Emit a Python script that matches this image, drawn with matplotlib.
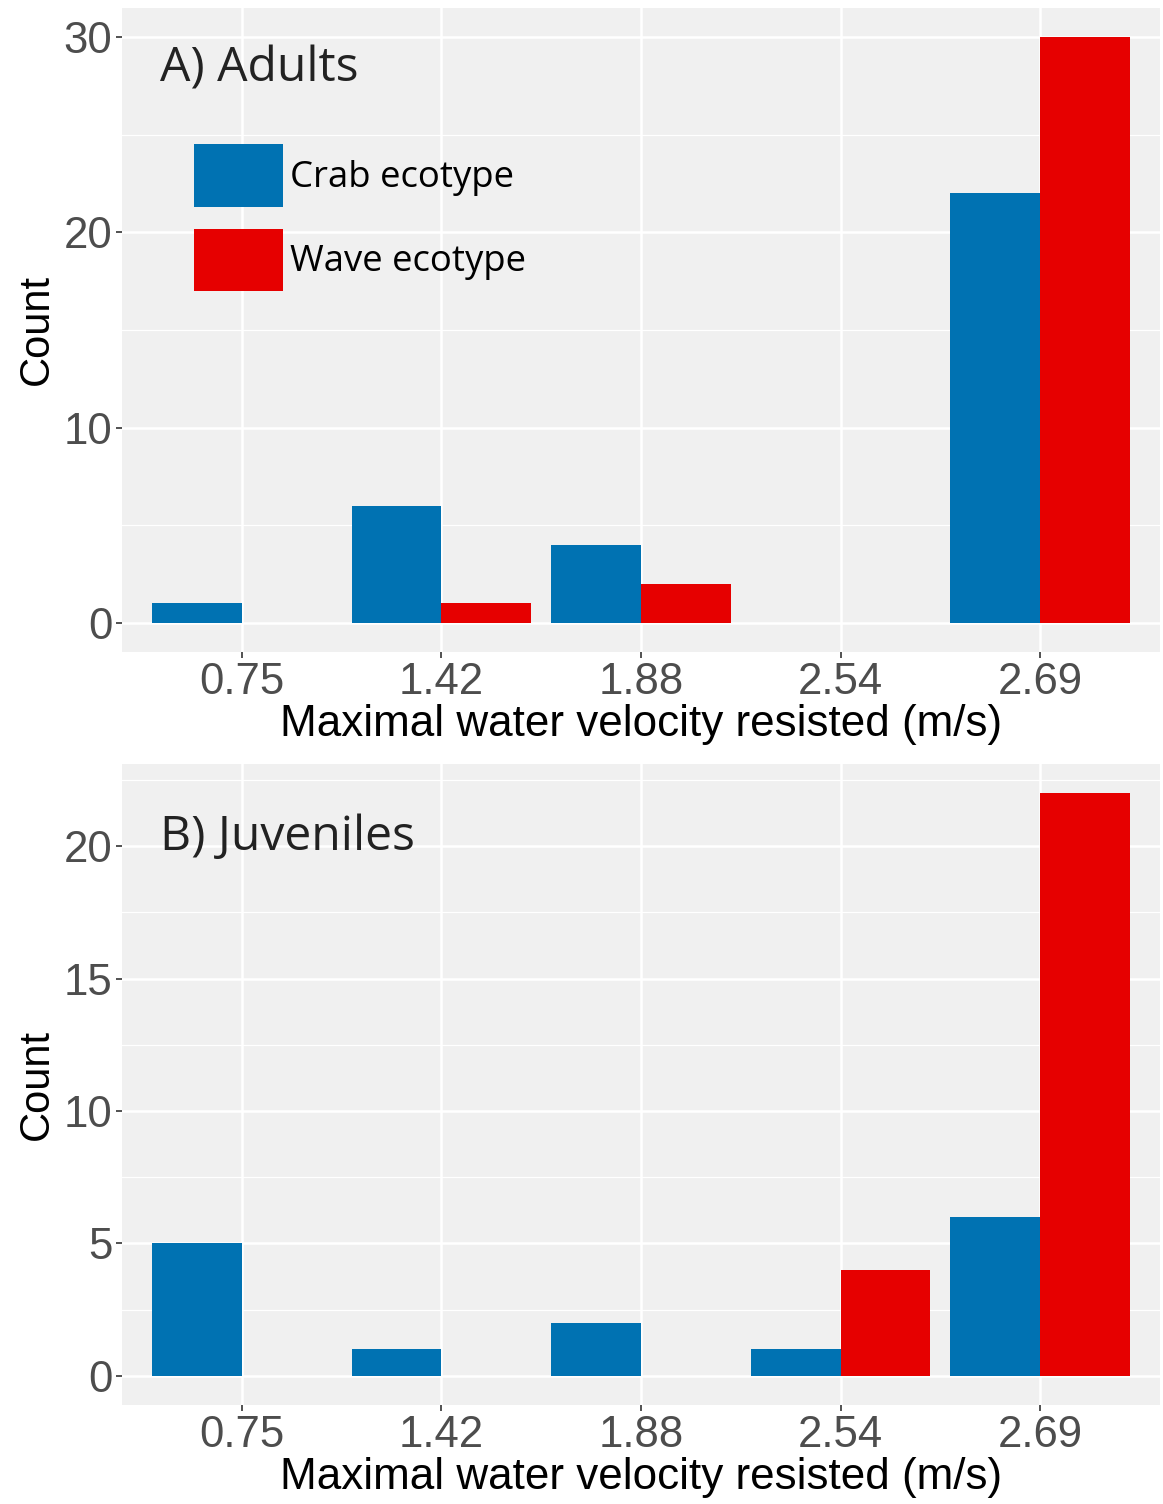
import numpy as np
import matplotlib
matplotlib.use('Agg')
import matplotlib.pyplot as plt
from matplotlib.patches import Patch
from matplotlib.ticker import MultipleLocator

# data
velocity = ['0.75', '1.42', '1.88', '2.54', '2.69']
adult_crab = [1, 6, 4, 0, 22]
adult_wave = [0, 1, 2, 0, 30]
juv_crab = [5, 1, 2, 1, 6]
juv_wave = [0, 0, 0, 4, 22]

crab_col = '#0072B2'
wave_col = '#E60000'

plt.rcParams['font.family'] = ['Liberation Sans', 'DejaVu Sans']

fig = plt.figure(figsize=(11.63, 15.04), dpi=100)
ax1 = fig.add_axes([0.1049, 0.5665, 0.8925, 0.4282])
ax2 = fig.add_axes([0.1049, 0.0658, 0.8925, 0.4262])


def panel(ax, crab, wave, ymax, major, title, title_y):
    x = np.arange(len(velocity))
    w = 0.45
    ax.set_facecolor('#F0F0F0')
    ax.bar(x - w / 2, crab, width=w, color=crab_col, zorder=3)
    ax.bar(x + w / 2, wave, width=w, color=wave_col, zorder=3)
    ax.set_xlim(-0.6, len(velocity) - 0.4)
    ax.set_xticks(x)
    ax.set_xticklabels(velocity)
    ax.yaxis.set_major_locator(MultipleLocator(major))
    ax.yaxis.set_minor_locator(MultipleLocator(major / 2))
    ax.set_ylim(-0.05 * ymax, 1.05 * ymax)
    ax.grid(which='major', color='white', lw=1.8, zorder=0)
    ax.grid(which='minor', axis='y', color='white', lw=0.9, zorder=0)
    ax.set_axisbelow(True)
    for s in ax.spines.values():
        s.set_visible(False)
    ax.tick_params(axis='both', which='major', length=4, width=1.2, color='#333333',
                   labelsize=31.5, labelcolor='#4D4D4D', pad=3)
    ax.tick_params(axis='y', which='minor', length=0)
    ax.set_xlabel('Maximal water velocity resisted (m/s)', fontsize=31.7, color='black', labelpad=1)
    ax.set_ylabel('Count', fontsize=30, color='black', labelpad=5)
    ax.text(0.0366, title_y, title, transform=ax.transAxes, fontsize=34.7,
            family=['Open Sans', 'DejaVu Sans'], color='#222222', va='center', ha='left')


panel(ax1, adult_crab, adult_wave, 30, 10, 'A) Adults', 0.906)
panel(ax2, juv_crab, juv_wave, 22, 5, 'B) Juveniles', 0.885)

handles = [Patch(facecolor=crab_col, label='Crab ecotype'),
           Patch(facecolor=wave_col, label='Wave ecotype')]
ax1.legend(handles=handles, loc='upper left', bbox_to_anchor=(0.0694, 0.789),
           frameon=False, borderpad=0, borderaxespad=0, handlelength=2.44,
           handleheight=2.27, handletextpad=0.19, labelspacing=0.6,
           prop={'family': ['Open Sans', 'DejaVu Sans'], 'size': 26.3})

fig.savefig('out.png', dpi=100)
